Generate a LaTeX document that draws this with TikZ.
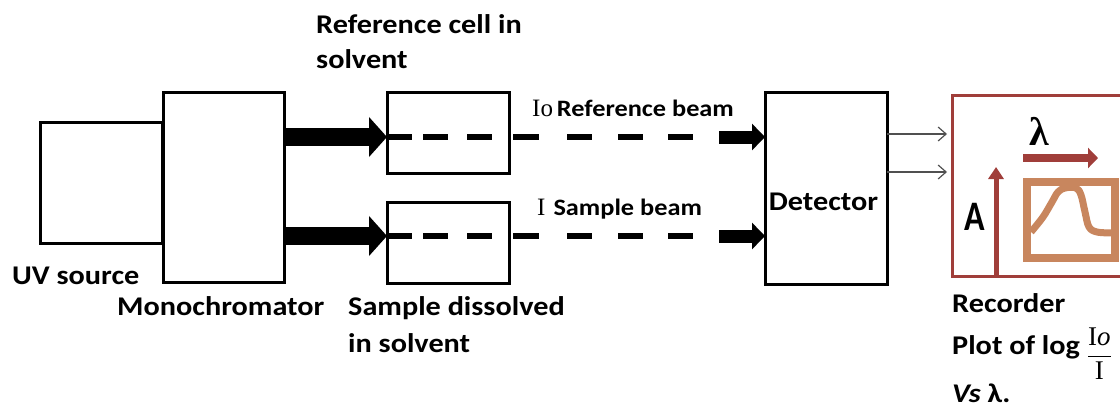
\documentclass[tikz,border=0pt]{standalone}
\usepackage{fontspec}
\usepackage{graphicx}
\setmainfont{Carlito}[FakeStretch=1.12]
\newfontfamily\serifface{Liberation Serif}
\usetikzlibrary{arrows.meta}
\definecolor{recred}{RGB}{160,62,58}
\definecolor{plottan}{RGB}{200,134,94}
\definecolor{wiregray}{RGB}{80,80,80}
\begin{document}
\begin{tikzpicture}[x=1pt,y=-1pt,
  box/.style={draw=black, line width=3pt, inner sep=0pt, outer sep=0pt},
  lbl/.style={font=\bfseries\fontsize{27}{35}\selectfont, inner sep=0pt, anchor=base west},
  beamlbl/.style={lbl, font=\bfseries\fontsize{23.5}{30}\selectfont},
  fatarrow/.style={line width=18pt, -{Triangle[length=18pt,width=39pt]}},
  beamend/.style={line width=13pt, -{Triangle[length=13pt,width=26pt]}},
  beam/.style={line width=6pt, dash pattern=on 25pt off 11pt on 25pt off 19pt on 25pt off 21pt on 26pt off 28pt on 25pt off 26pt on 25pt off 25pt on 25pt off 80pt},
  wire/.style={draw=wiregray, line width=1.2pt, -{Straight Barb[length=8pt,width=14pt]}, shorten >=5pt},
]
\useasboundingbox (0,0) rectangle (1120,410);
\clip (0,0) rectangle (1120,410);

% optical blocks
\node[box, minimum width=122pt, minimum height=121pt] (uv) at (101,182.5) {};
\node[box, minimum width=121pt, minimum height=190pt] (mono) at (223.5,187) {};
\node[box, minimum width=122pt, minimum height=81pt] (refcell) at (448,132.5) {};
\node[box, minimum width=122pt, minimum height=81pt] (samcell) at (448,242.5) {};
\node[box, minimum width=122pt, minimum height=192pt] (det) at (826,188) {};
\node[draw=recred, line width=3pt, inner sep=0pt, outer sep=0pt,
      minimum width=180pt, minimum height=181pt] (rec) at (1042,185.5) {};

% beam entry points of the cells
\coordinate (rb) at (refcell.west |- 0,137);
\coordinate (sb) at (samcell.west |- 0,236);
\coordinate (rbend) at (719,137);
\coordinate (sbend) at (719,236);

% monochromatic light into the cells
\draw[fatarrow] (mono.east |- rb) -- (rb);
\draw[fatarrow] (mono.east |- sb) -- (sb);

% reference and sample beams
\draw[beam] (rb) -- (rbend);
\draw[beam] (sb) -- (sbend);
\draw[beamend] (rbend) -- (det.west |- rbend);
\draw[beamend] (sbend) -- (det.west |- sbend);

% detector signals to the recorder
\draw[wire] (det.east |- 0,134) -- (rec.west |- 0,134);
\draw[wire] (det.east |- 0,172) -- (rec.west |- 0,172);

% recorder trace
\draw[plottan, line width=8pt] (1027,182) rectangle (1115,258);
\draw[plottan, line width=7pt, line join=round]
  plot[smooth, tension=0.6] coordinates {(1031,232) (1043,217) (1052,202) (1058,192)
  (1065,188) (1076,188) (1081,195) (1085,212) (1089,227) (1097,232) (1112,233)};
\draw[recred, line width=8pt, -{Triangle[length=10pt,width=20pt]}] (1023,158) -- (1098,158);
\draw[recred, line width=5pt, -{Triangle[length=12pt,width=15pt]}] (rec.south -| 996,0) -- (996,167);
\node[font=\serifface\bfseries\fontsize{40}{40}\selectfont, inner sep=0pt, anchor=base] (lam) at (1039,145) {λ};
\node[lbl, font=\bfseries\fontsize{42}{42}\selectfont] (absn) at (964,230) {\scalebox{0.72}[1]{A}};

% labels
\node[lbl] (refl1) at (316,33) {Reference cell in};
\node[lbl] (refl2) at (316,68) {solvent};
\node[lbl] (uvl) at (12,284) {UV source};
\node[lbl] (monol) at (117,315) {Monochromator};
\node[lbl] (saml1) at (348,315) {Sample dissolved};
\node[lbl] (saml2) at (348,352) {in solvent};
\node[beamlbl] (rbl) at (532,116) {{\serifface\mdseries\fontsize{25}{30}\selectfont Io}\,Reference beam};
\node[beamlbl] (sbl) at (537,215) {{\serifface\mdseries\fontsize{25}{30}\selectfont I}\hspace{8pt}Sample beam};
\node[lbl, anchor=base] (detl) at (823.5,210) {Detector};
\node[lbl] (recl) at (952,312) {Recorder};
\node[lbl] (plotl) at (952,354) {Plot of log \raisebox{-8pt}{$\displaystyle\frac{\hbox{\serifface\mdseries\fontsize{27}{30}\selectfont I\textit{o}}}{\hbox{\serifface\mdseries\fontsize{27}{30}\selectfont I}}$}};
\node[lbl] (vsl) at (952,402) {\textit{Vs} λ.};
\end{tikzpicture}
\end{document}
